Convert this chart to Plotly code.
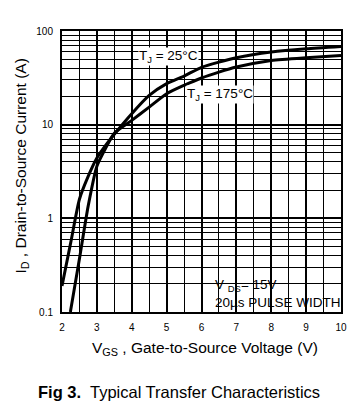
import plotly.graph_objects as go

# ---- data ----
vgs_25 = [2.0, 2.25, 2.5, 2.75, 3.0, 3.25, 3.5, 4.0, 4.5, 5.0, 5.5, 6.0, 6.5, 7.0, 8.0, 9.0, 10.0]
id_25 = [0.19, 0.55, 1.6, 2.8, 4.4, 6.0, 7.9, 13.1, 20.5, 27.4, 33.0, 41.0, 46.6, 51.9, 59.6, 64.7, 68.5]

vgs_175 = [2.24, 2.5, 2.75, 3.0, 3.25, 3.5, 4.0, 4.5, 5.0, 5.5, 6.0, 6.5, 7.0, 8.0, 9.0, 10.0]
id_175 = [0.1, 0.37, 1.35, 3.6, 5.6, 8.1, 11.1, 15.4, 21.4, 26.3, 31.5, 36.4, 41.2, 48.5, 51.9, 54.6]

x_ticks = [2, 3, 4, 5, 6, 7, 8, 9, 10]
y_ticks = [0.1, 1, 10, 100]
y_tick_text = ["0.1", "1", "10", "100"]
y_minor = [m * d for d in (0.1, 1, 10) for m in range(2, 10)]

FONT = "Liberation Sans, Arial, sans-serif"

fig = go.Figure()
fig.add_trace(go.Scatter(x=vgs_25, y=id_25, mode="lines", line=dict(color="black", width=3, shape="spline", smoothing=0.6),
                         showlegend=False, hoverinfo="skip"))
fig.add_trace(go.Scatter(x=vgs_175, y=id_175, mode="lines", line=dict(color="black", width=3, shape="spline", smoothing=0.6),
                         showlegend=False, hoverinfo="skip"))

fig.update_layout(
    width=359, height=416,
    margin=dict(l=62, r=14, t=31, b=104),
    paper_bgcolor="white", plot_bgcolor="white",
    font=dict(family=FONT, color="black"),
    xaxis=dict(range=[2, 10], tickvals=x_ticks, ticktext=[str(v) for v in x_ticks],
               showgrid=True, gridcolor="black", gridwidth=1.6,
               minor=dict(dtick=0.5, tick0=2, showgrid=True, gridcolor="black", gridwidth=1),
               showline=True, linecolor="black", linewidth=2, mirror=True,
               ticks="", tickfont=dict(size=10, family=FONT), zeroline=False,
               ticklabelstandoff=5),
    yaxis=dict(type="log", range=[-1, 2], tickvals=y_ticks, ticktext=y_tick_text,
               showgrid=True, gridcolor="black", gridwidth=2,
               minor=dict(tickvals=y_minor, showgrid=True, gridcolor="black", gridwidth=1),
               showline=True, linecolor="black", linewidth=2, mirror=True,
               ticks="", tickfont=dict(size=10, family=FONT), zeroline=False,
               ticklabelstandoff=5),
)

# white box behind the test-condition note
fig.add_shape(type="rect", xref="paper", yref="paper", x0=0.498, x1=0.995, y0=0.005, y1=0.107,
              fillcolor="white", line=dict(width=0), layer="between")

ann_font = dict(family=FONT, size=13.5, color="black")
def note(x_px, y_px, text, xanchor="center", bg=None, size=None, angle=0):
    f = dict(ann_font)
    if size:
        f["size"] = size
    fig.add_annotation(xref="paper", yref="paper", x=(x_px - 62) / 283, y=(312 - y_px) / 281,
                       text=text, showarrow=False, xanchor=xanchor, yanchor="middle",
                       bgcolor=bg, font=f, borderpad=0, textangle=angle)

note(170.5, 56, "T<sub>J</sub> = 25°C", bg="white")
note(222, 94, "T<sub>J</sub> = 175°C", bg="white")
note(216, 285, "V <sub>DS</sub>= 15V", xanchor="left")
note(216, 302, "20µs PULSE WIDTH", xanchor="left")

# axis titles and caption
note(207.5, 348, "V<sub>GS</sub> , Gate-to-Source Voltage (V)", size=15.5)
note(20, 166, "I<sub>D</sub> , Drain-to-Source Current (A)", size=15.5, angle=-90)
note(181, 392, "<b>Fig 3.</b>  Typical Transfer Characteristics", size=16.5)

fig.write_html("out.html", config={"displayModeBar": False},
               post_script="document.body.style.margin='0px';")
